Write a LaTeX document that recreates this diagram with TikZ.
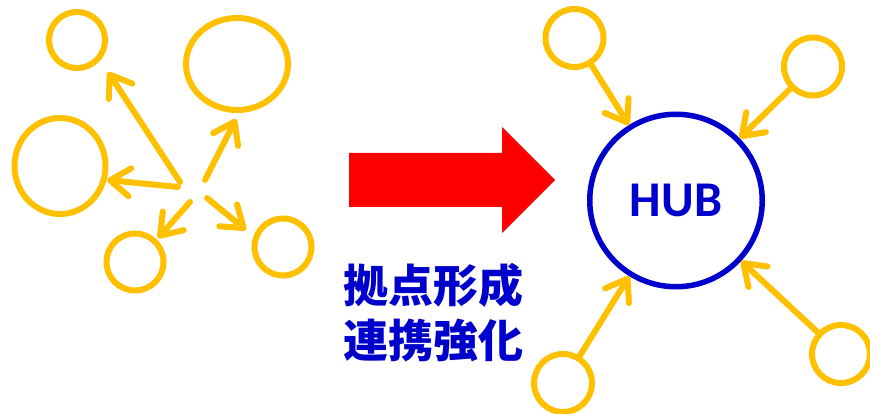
\documentclass[tikz,border=0pt]{standalone}
\usepackage{fontspec}
\setmainfont{Carlito}
\newfontfamily\cjk{Noto Sans CJK JP}
\usetikzlibrary{arrows.meta,shapes.geometric}
\definecolor{ylw}{RGB}{255,192,0}
\definecolor{hubblue}{RGB}{0,0,204}
\tikzset{
  ring/.style={draw=ylw,line width=6pt,circle,inner sep=0pt,minimum size=57pt},
  oval/.style={draw=ylw,line width=6pt,ellipse,inner sep=0pt},
  yarrow/.style={draw=ylw,line width=6pt,line cap=round,
    -{Straight Barb[length=20pt,width=28pt,line cap=round,line join=round]}},
}
\begin{document}
\begin{tikzpicture}[x=1pt,y=-1pt]
\useasboundingbox (0,0) rectangle (870,414);
% left: scattered
\node[ring,minimum size=56pt] (c1) at (77,40) {};
\node[oval,minimum width=102pt,minimum height=92pt] (c2) at (237,64) {};
\node[oval,minimum width=91pt,minimum height=96pt] (c3) at (60,166) {};
\node[ring] (c4) at (135,262) {};
\node[ring] (c5) at (283,247) {};
\coordinate (s1) at (180,182); \coordinate (t1) at (108,72);
\coordinate (s2) at (205,180); \coordinate (t2) at (236,119);
\coordinate (s3) at (178,187); \coordinate (t3) at (107,180);
\coordinate (s4) at (190,202); \coordinate (t4) at (158,238);
\coordinate (s5) at (207,198); \coordinate (t5) at (246,230);
\draw[yarrow] (s1) -- (t1);
\draw[yarrow] (s2) -- (t2);
\draw[yarrow] (s3) -- (t3);
\draw[yarrow] (s4) -- (t4);
\draw[yarrow] (s5) -- (t5);
% red arrow
\fill[red] (349,153) -- (502,153) -- (502,127) -- (555,180) -- (502,233) -- (502,207) -- (349,207) -- cycle;
\node[anchor=west,text=hubblue,font=\cjk\bfseries\fontsize{45}{55}\selectfont,inner sep=0pt] (lab1) at (343,285) {拠点形成};
\node[anchor=west,text=hubblue,font=\cjk\bfseries\fontsize{45}{55}\selectfont,inner sep=0pt] (lab2) at (343,340) {連携強化};
% right: hub
\node[draw=hubblue,line width=5.5pt,circle,inner sep=0pt,minimum size=172.5pt,
  text=hubblue,font=\bfseries\fontsize{50}{50}\selectfont] (hub) at (676,200.5) {HUB};
\node[ring,minimum size=58pt] (r1) at (574.5,38) {};
\node[ring,minimum size=58pt] (r2) at (813,66.5) {};
\node[ring,minimum size=58pt] (r3) at (563,383) {};
\node[ring,minimum size=58pt] (r4) at (841,354) {};
\draw[yarrow] (r1) -- (hub);
\draw[yarrow] (r2) -- (hub);
\draw[yarrow] (r3) -- (hub);
\draw[yarrow] (r4) -- (hub);
\end{tikzpicture}
\end{document}
